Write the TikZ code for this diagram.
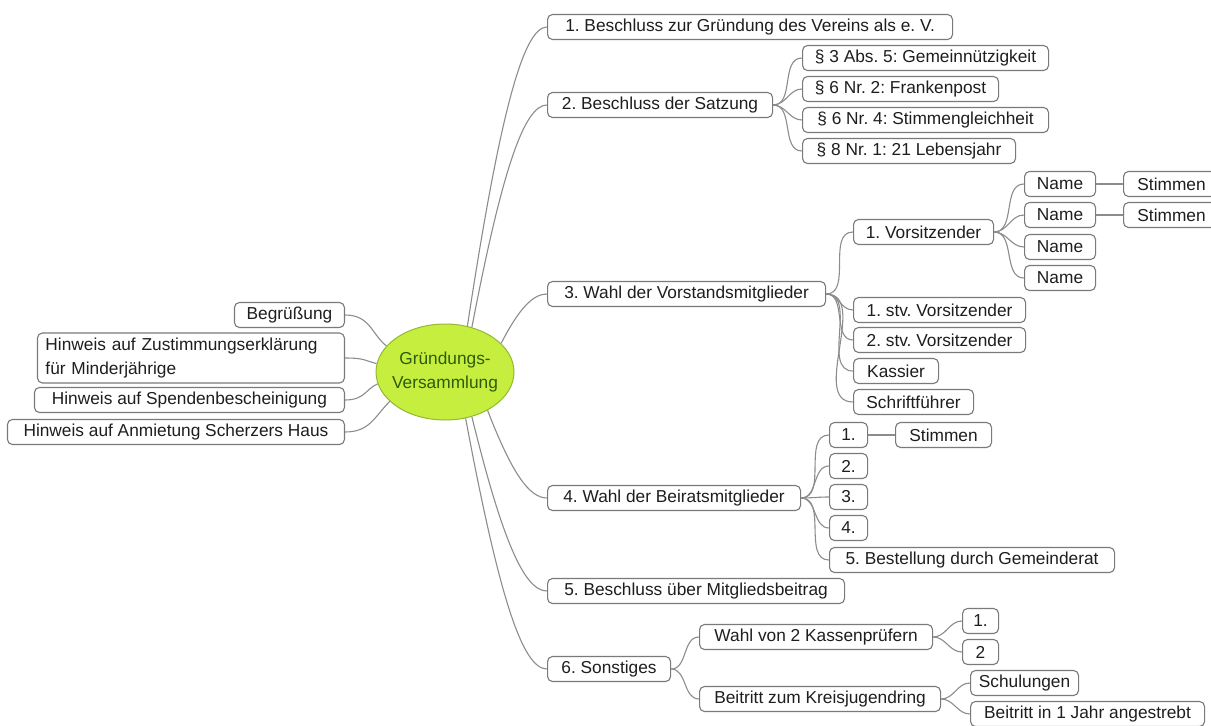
\documentclass[tikz,border=0pt]{standalone}
\usepackage{fontspec}
\setmainfont{Liberation Sans}
\usetikzlibrary{shapes.geometric}
\definecolor{bord}{HTML}{7A7A7A}
\definecolor{conn}{HTML}{8C8C8C}
\definecolor{txt}{HTML}{1E1E1E}
\definecolor{lime}{HTML}{C6EE3E}
\definecolor{limeb}{HTML}{94B832}
\definecolor{dgreen}{HTML}{2E5C0A}
\frenchspacing
\begin{document}
\begin{tikzpicture}[x=1pt,y=-1pt,
  bx/.style={draw=bord, line width=1.1pt, rounded corners=5pt, fill=white, anchor=west,
    minimum height=25pt, inner xsep=4pt, inner ysep=0pt,
    font=\frenchspacing\fontsize{17.3}{24}\selectfont, text=txt},
  cn/.style={draw=conn, line width=1.1pt}]
\useasboundingbox (0,0) rectangle (1211,726);
\clip (0,0) rectangle (1211,726);

% centre
\node[ellipse, draw=limeb, fill=lime, line width=1pt, minimum width=138, minimum height=96, inner sep=0pt,
  label={[align=center, text=dgreen, font=\fontsize{17.3}{24}\selectfont]center:Gründungs-\\Versammlung}] (c) at (445,372) {};

% left side
\node[bx, anchor=east, minimum width=110] (l1) at (345,315) {Begrüßung};
\node[bx, anchor=east, text width=291, inner xsep=8pt, minimum height=50, align=left] (l2) at (345,358) {Hinweis auf Zustimmungserklärung\\für Minderjährige};
\node[bx, anchor=east, minimum width=310] (l3) at (345,400) {Hinweis auf Spendenbescheinigung};
\node[bx, anchor=east, minimum width=337] (l4) at (345,432) {Hinweis auf Anmietung Scherzers Haus};

% main branches
\node[bx, minimum width=405] (b1) at (547,27) {1. Beschluss zur Gründung des Vereins als e. V.};
\node[bx, minimum width=225] (b2) at (547,105) {2. Beschluss der Satzung};
\node[bx, minimum width=278] (b3) at (547,294) {3. Wahl der Vorstandsmitglieder};
\node[bx, minimum width=253] (b4) at (547,498) {4. Wahl der Beiratsmitglieder};
\node[bx, minimum width=297] (b5) at (547,591) {5. Beschluss über Mitgliedsbeitrag};
\node[bx, minimum width=123] (b6) at (547,669) {6. Sonstiges};

% Satzung
\node[bx, minimum width=246] (p1) at (802,58) {§ 3 Abs. 5: Gemeinnützigkeit};
\node[bx, minimum width=196] (p2) at (802,89) {§ 6 Nr. 2: Frankenpost};
\node[bx, minimum width=246] (p3) at (802,120) {§ 6 Nr. 4: Stimmengleichheit};
\node[bx, minimum width=213] (p4) at (802,151) {§ 8 Nr. 1: 21 Lebensjahr};

% Vorstand
\node[bx, minimum width=140] (v1) at (853,232) {1. Vorsitzender};
\node[bx, minimum width=71] (n1) at (1024,184) {Name};
\node[bx, minimum width=71] (n2) at (1024,215) {Name};
\node[bx, minimum width=71] (n3) at (1024,247) {Name};
\node[bx, minimum width=71] (n4) at (1024,278) {Name};
\node[bx, minimum width=96] (s1) at (1123,184) {Stimmen};
\node[bx, minimum width=96] (s2) at (1123,215) {Stimmen};
\node[bx, minimum width=172] (v2) at (853,310) {1. stv. Vorsitzender};
\node[bx, minimum width=172] (v3) at (853,340) {2. stv. Vorsitzender};
\node[bx, minimum width=85] (v4) at (853,371) {Kassier};
\node[bx, minimum width=120] (v5) at (853,402) {Schriftführer};

% Beirat
\node[bx, minimum width=38] (r1) at (829,435) {1.};
\node[bx, minimum width=96] (rs) at (895,435) {Stimmen};
\node[bx, minimum width=38] (r2) at (829,466) {2.};
\node[bx, minimum width=38] (r3) at (829,497) {3.};
\node[bx, minimum width=38] (r4) at (829,528) {4.};
\node[bx, minimum width=285] (r5) at (829,560) {5. Bestellung durch Gemeinderat};

% Sonstiges
\node[bx, minimum width=233] (o1) at (699,637) {Wahl von 2 Kassenprüfern};
\node[bx, minimum width=241] (o2) at (699,699) {Beitritt zum Kreisjugendring};
\node[bx, minimum width=36] (k1) at (962,621) {1.};
\node[bx, minimum width=36] (k2) at (962,652) {2};
\node[bx, minimum width=108] (j1) at (970,683) {Schulungen};
\node[bx, minimum width=234] (j2) at (970,714) {Beitritt in 1 Jahr angestrebt};

% connectors: left
\draw[cn] (l1.east) .. controls +(25,0) and +(-15,-12) .. (c.156);
\draw[cn] (l2.east) .. controls +(20,0) and +(-12,-3) .. (c.173);
\draw[cn] (l3.east) .. controls +(20,0) and +(-12,5) .. (c.190);
\draw[cn] (l4.east) .. controls +(25,0) and +(-15,15) .. (c.208);

% connectors: main right
\draw[cn] (c.64) .. controls +(32,-210) and +(-24,0) .. (b1.west);
\draw[cn] (c.59) .. controls +(30,-156) and +(-23,0) .. (b2.west);
\draw[cn] (c.27) .. controls +(18,-35) and +(-14,0) .. (b3.west);
\draw[cn] (c.-42) .. controls +(24,62) and +(-18,0) .. (b4.west);
\draw[cn] (c.-59) .. controls +(30,122) and +(-23,0) .. (b5.west);
\draw[cn] (c.-66) .. controls +(33,176) and +(-25,0) .. (b6.west);

% connectors: sub
\foreach \t in {p1,p2,p3,p4} \draw[cn] (b2.east) to[out=0,in=180] (\t.west);
\foreach \t in {v1,v2,v3,v4,v5} \draw[cn] (b3.east) to[out=0,in=180] (\t.west);
\foreach \t in {n1,n2,n3,n4} \draw[cn] (v1.east) to[out=0,in=180] (\t.west);
\draw[cn] (n1.east) -- (s1.west);
\draw[cn] (n2.east) -- (s2.west);
\foreach \t in {r1,r2,r3,r4,r5} \draw[cn] (b4.east) to[out=0,in=180] (\t.west);
\draw[cn] (r1.east) -- (rs.west);
\foreach \t in {o1,o2} \draw[cn] (b6.east) to[out=0,in=180] (\t.west);
\foreach \t in {k1,k2} \draw[cn] (o1.east) to[out=0,in=180] (\t.west);
\foreach \t in {j1,j2} \draw[cn] (o2.east) to[out=0,in=180] (\t.west);
\end{tikzpicture}
\end{document}
